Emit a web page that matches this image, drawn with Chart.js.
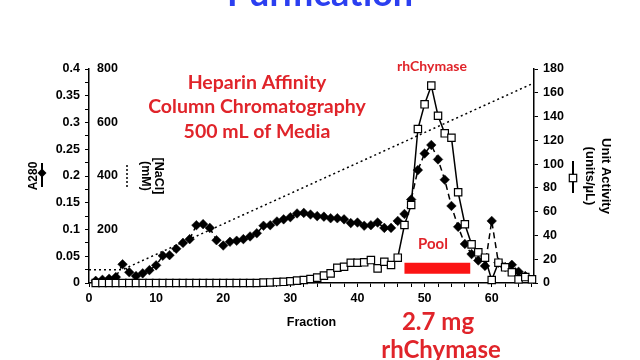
<!DOCTYPE html>
<html>
<head>
<meta charset="utf-8">
<script src="https://cdn.jsdelivr.net/npm/chart.js@4.4.0/dist/chart.umd.min.js"></script>
<style>
  html, body { margin: 0; padding: 0; background: #fff; }
  #wrap { width: 640px; height: 360px; }
</style>
</head>
<body>
<div id="wrap"><canvas id="chart" width="640" height="360"></canvas></div>
<script>
// Nomor fraksi
const fractions = [1, 2, 3, 4, 5, 6, 7, 8, 9, 10, 11, 12, 13, 14, 15, 16, 17, 18, 19, 20,
    21, 22, 23, 24, 25, 26, 27, 28, 29, 30, 31, 32, 33, 34, 35, 36, 37, 38, 39, 40,
    41, 42, 43, 44, 45, 46, 47, 48, 49, 50, 51, 52, 53, 54, 55, 56, 57, 58, 59, 60,
    61, 62, 63, 64, 65, 66];

// Absorbansi A280 (fraksi 1-65)
const a280 = [0.004, 0.006, 0.008, 0.011, 0.035, 0.020, 0.013, 0.018, 0.024, 0.033,
    0.051, 0.052, 0.064, 0.075, 0.082, 0.108, 0.110, 0.103, 0.080, 0.070,
    0.077, 0.079, 0.082, 0.087, 0.093, 0.107, 0.108, 0.115, 0.119, 0.123,
    0.130, 0.131, 0.128, 0.125, 0.124, 0.121, 0.121, 0.119, 0.112, 0.113,
    0.107, 0.108, 0.113, 0.103, 0.103, 0.116, 0.129, 0.156, 0.211, 0.242,
    0.258, 0.231, 0.193, 0.144, 0.105, 0.073, 0.054, 0.042, 0.032, 0.116,
    0.038, 0.030, 0.034, 0.021, 0.013];

// Aktivitas enzim (units/uL)
const activity = [0, 0, 0, 0, 0, 0, 0, 0, 0, 0,
    0, 0, 0, 0, 0, 0, 0, 0, 0, 0,
    0, 0, 0, 0, 0, 0.3, 0.5, 0.8, 1, 1.5,
    2, 2.5, 3.4, 4.5, 6.2, 8.1, 12.8, 13.7, 17, 17,
    17.4, 19.3, 12.3, 17.9, 15.1, 21.3, 48.8, 65.6, 129.5, 150.3,
    166, 140.7, 125.9, 122.2, 76.3, 49.4, 32.5, 25.8, 21.3, 2.5,
    17.1, 13.2, 9, 3.1, 5, 3.1];

// Gradien NaCl (mM)
const gradientFraction = [0, 5, 66.3];
const gradientNaCl = [50, 50, 748];

// Fraksi yang digabung (pool)
const poolFraction = [47, 56.8];
const poolLevel = 12.4;

// Label sumbu
const xTickLabels = [0, 10, 20, 30, 40, 50, 60];
const a280TickLabels = [0, 0.05, 0.1, 0.15, 0.2, 0.25, 0.3, 0.35, 0.4];
const naclTickLabels = [200, 400, 600, 800];
const activityTickLabels = [0, 20, 40, 60, 80, 100, 120, 140, 160, 180];

const axisFamily = "'Liberation Sans', Arial, sans-serif";
const textFamily = "Lato, 'Open Sans', sans-serif";
const tickFont = { family: axisFamily, size: 12.5, weight: 'bold' };
const red = '#e0242a';

// Teks tambahan, judul sumbu NaCl dan simbol legenda
const annotations = {
    id: 'annotations',
    afterDraw(chart) {
        const c = chart.ctx;
        c.save();
        c.textAlign = 'center';

        c.fillStyle = '#2b3ff0';
        c.textBaseline = 'alphabetic';
        c.font = 'bold 36px ' + textFamily;
        c.fillText('Purification', 320, 6);

        c.textBaseline = 'middle';
        c.fillStyle = red;
        c.font = 'bold 19.5px ' + textFamily;
        c.fillText('Heparin Affinity', 257, 83);
        c.fillText('Column Chromatography', 257, 107);
        c.fillText('500 mL of Media', 257, 132);

        c.font = 'bold 14px ' + textFamily;
        c.fillText('rhChymase', 432, 66);
        c.font = 'bold 15px ' + textFamily;
        c.fillText('Pool', 433, 244);

        c.font = 'bold 24px ' + textFamily;
        c.fillText('2.7 mg', 438, 322);
        c.fillText('rhChymase', 441, 350);

        // judul [NaCl]
        c.fillStyle = '#000';
        c.font = 'bold 12.5px ' + axisFamily;
        c.save();
        c.translate(158, 176);
        c.rotate(Math.PI / 2);
        c.fillText('[NaCl]', 0, 0);
        c.fillText('(mM)', 0, 13);
        c.restore();

        // simbol NaCl
        c.strokeStyle = '#000';
        c.lineWidth = 1.5;
        c.setLineDash([2, 2]);
        c.beginPath();
        c.moveTo(127, 165);
        c.lineTo(127, 188);
        c.stroke();
        c.setLineDash([]);

        // simbol A280
        c.lineWidth = 2;
        c.beginPath();
        c.moveTo(42, 163);
        c.lineTo(42, 187);
        c.stroke();
        c.beginPath();
        c.moveTo(42, 168.5);
        c.lineTo(46.5, 173);
        c.lineTo(42, 177.5);
        c.lineTo(37.5, 173);
        c.closePath();
        c.fillStyle = '#000';
        c.fill();

        // simbol aktivitas
        c.beginPath();
        c.moveTo(573, 161);
        c.lineTo(573, 193);
        c.stroke();
        c.fillStyle = '#fff';
        c.lineWidth = 1.2;
        c.fillRect(569.3, 174.3, 7.4, 7.4);
        c.strokeRect(569.3, 174.3, 7.4, 7.4);

        c.restore();
    }
};

let ctx = document.getElementById('chart').getContext('2d');
let chart = new Chart(ctx, {
    type: 'line',
    data: {
        datasets: [{
            label: 'Unit Activity',
            data: fractions.map((f, i) => ({ x: f, y: activity[i] })),
            yAxisID: 'yR',
            order: 0,
            clip: false,
            borderColor: '#000',
            borderWidth: 1.5,
            pointStyle: 'rect',
            pointRadius: 5.2,
            pointBackgroundColor: '#fff',
            pointBorderColor: '#000',
            pointBorderWidth: 1.2
        }, {
            label: 'A280',
            data: a280.map((v, i) => ({ x: fractions[i], y: v })),
            yAxisID: 'yA',
            order: 1,
            clip: false,
            borderColor: '#000',
            borderWidth: 1.5,
            borderDash: [6, 4],
            pointStyle: 'rectRot',
            pointRadius: 4.8,
            pointBackgroundColor: '#000',
            pointBorderColor: '#000',
            pointBorderWidth: 0.5
        }, {
            label: '[NaCl]',
            data: gradientFraction.map((f, i) => ({ x: f, y: gradientNaCl[i] })),
            yAxisID: 'yN',
            order: 2,
            borderColor: '#000',
            borderWidth: 1.5,
            borderDash: [2, 3],
            pointRadius: 0
        }, {
            label: 'Pool',
            data: poolFraction.map(f => ({ x: f, y: poolLevel })),
            yAxisID: 'yR',
            order: 3,
            borderColor: '#fb1414',
            borderWidth: 11,
            borderCapStyle: 'butt',
            pointRadius: 0
        }]
    },
    options: {
        responsive: false,
        animation: false,
        layout: { padding: { top: 69, left: 0, right: 0, bottom: 0 } },
        plugins: {
            legend: { display: false },
            tooltip: { enabled: false }
        },
        scales: {
            x: {
                type: 'linear',
                position: 'bottom',
                min: 0,
                max: 66.3,
                afterFit: s => { s.height = 77; },
                border: { color: '#000', width: 1.5 },
                grid: { drawOnChartArea: false, color: '#000', tickLength: 4 },
                ticks: {
                    stepSize: 2, includeBounds: false, autoSkip: false, maxRotation: 0,
                    padding: 4, color: '#000', font: tickFont,
                    callback: v => xTickLabels.includes(v) ? String(v) : ''
                },
                title: {
                    display: true, text: 'Fraction', color: '#000',
                    font: { family: axisFamily, size: 12.5, weight: 'bold' },
                    padding: { top: 0, bottom: 30 }
                }
            },
            yA: {
                position: 'left',
                weight: 1,
                min: 0,
                max: 0.4,
                afterFit: s => { s.width = 89; },
                border: { color: '#000', width: 1.5 },
                grid: { drawOnChartArea: false, color: '#000', tickLength: 4 },
                ticks: {
                    stepSize: 0.025, includeBounds: false, autoSkip: false,
                    padding: 5, color: '#000', font: tickFont,
                    callback: v => a280TickLabels.includes(v) ? String(v) : ''
                },
                title: {
                    display: true, text: 'A280', color: '#000',
                    font: { family: axisFamily, size: 12, weight: 'bold' },
                    padding: { top: 26, bottom: 0 }
                }
            },
            yN: {
                position: 'left',
                weight: 0,
                min: 0,
                max: 800,
                afterFit: s => { s.width = 0; },
                border: { display: false },
                grid: { display: false, drawTicks: false },
                ticks: {
                    stepSize: 200, mirror: true, autoSkip: false,
                    padding: 8, color: '#000', font: tickFont,
                    callback: v => naclTickLabels.includes(v) ? String(v) : ''
                }
            },
            yR: {
                position: 'right',
                min: 0,
                max: 180,
                afterFit: s => { s.width = 106; },
                border: { color: '#000', width: 1.5 },
                grid: { drawOnChartArea: false, color: '#000', tickLength: 4 },
                ticks: {
                    stepSize: 20, autoSkip: false,
                    padding: 5, color: '#000', font: tickFont,
                    callback: v => activityTickLabels.includes(v) ? String(v) : ''
                },
                title: {
                    display: true, text: ['Unit Activity', '(units/µL)'], color: '#000',
                    font: { family: axisFamily, size: 13, weight: 'bold', lineHeight: 1.25 },
                    padding: { top: 26, bottom: 0 }
                }
            }
        }
    },
    plugins: [annotations]
});
</script>
</body>
</html>
